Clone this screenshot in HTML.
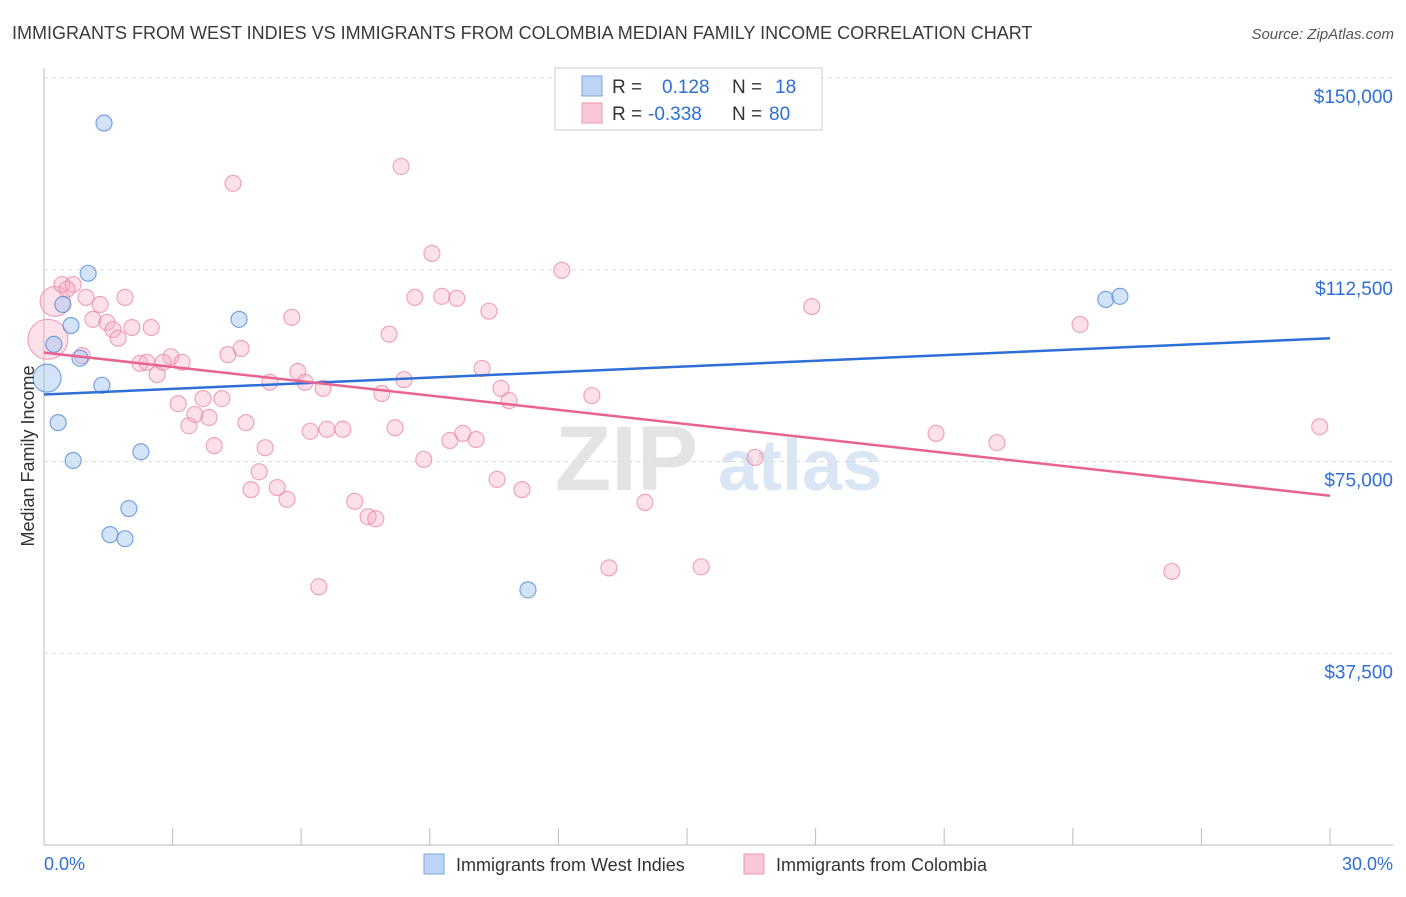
<!DOCTYPE html>
<html><head><meta charset="utf-8"><style>
body{margin:0;background:#fff;font-family:"Liberation Sans",sans-serif;}
svg text{font-family:"Liberation Sans",sans-serif;}
</style></head><body>
<svg id="chart" width="1406" height="892" xmlns="http://www.w3.org/2000/svg">
<text x="12" y="39" font-size="18" fill="#3a3a3a">IMMIGRANTS FROM WEST INDIES VS IMMIGRANTS FROM COLOMBIA MEDIAN FAMILY INCOME CORRELATION CHART</text>
<text x="1394" y="39" font-size="15" fill="#555" text-anchor="end" font-style="italic">Source: ZipAtlas.com</text>
<g>
<text x="555" y="490" font-size="92" fill="#e4e4e4" font-family="Liberation Serif" font-weight="bold">ZIP</text>
<text x="718" y="490" font-size="72" fill="#dbe6f5" font-weight="bold">atlas</text>
</g>
<g id="grid"></g><g id="axes"></g><g id="marks"></g><g id="lines"></g>
<text transform="translate(34,456) rotate(-90)" font-size="18" fill="#333" text-anchor="middle">Median Family Income</text>
<g>
<rect x="555" y="68" width="267" height="62" fill="#fff" stroke="#ccc"/>
<rect x="582" y="76" width="20" height="20" fill="#bcd4f5" stroke="#7aa6e0"/>
<rect x="582" y="103" width="20" height="20" fill="#f9c8d7" stroke="#ec98b3"/>
<text x="612" y="93" font-size="19" fill="#333">R = </text><text x="662" y="93" font-size="19" fill="#2d6fd6">0.128</text>
<text x="732" y="93" font-size="19" fill="#333">N = </text><text x="775" y="93" font-size="19" fill="#2d6fd6">18</text>
<text x="612" y="120" font-size="19" fill="#333">R = </text><text x="648" y="120" font-size="19" fill="#2d6fd6">-0.338</text>
<text x="732" y="120" font-size="19" fill="#333">N = </text><text x="769" y="120" font-size="19" fill="#2d6fd6">80</text>
</g>
<g>
<rect x="424" y="854" width="20" height="20" fill="#bcd4f5" stroke="#7aa6e0"/>
<text x="456" y="871" font-size="18" fill="#333">Immigrants from West Indies</text>
<rect x="744" y="854" width="20" height="20" fill="#f9c8d7" stroke="#ec98b3"/>
<text x="776" y="871" font-size="18" fill="#333">Immigrants from Colombia</text>
</g>
</svg>
<script>
const yTicks=[37500,75000,112500,150000];
const yTickLabels=["$37,500","$75,000","$112,500","$150,000"];
const xTickLabels=["0.0%","30.0%"];
const blueX=[1.40,1.03,0.44,0.63,4.55,0.23,0.84,0.07,1.35,0.33,0.68,2.26,1.98,1.54,1.89,11.29,24.77,25.10];
const blueY=[141.2,111.8,105.7,101.6,102.8,97.9,95.2,91.3,89.9,82.6,75.2,76.9,65.8,60.7,59.9,49.9,106.7,107.3];
const blueR=[8,8,8,8,8,8,8,14,8,8,8,8,8,8,8,8,8,8];
const pinkX=[4.41,8.33,9.05,12.08,0.09,0.26,0.42,0.68,0.54,0.98,1.31,1.89,1.14,1.47,1.61,1.73,2.05,2.50,0.89,2.24,2.40,2.64,2.96,2.78,3.22,3.13,3.38,3.52,3.71,3.85,3.97,4.15,4.29,4.60,4.71,4.83,5.02,5.16,5.27,5.44,5.67,5.78,5.92,6.09,6.21,6.41,6.51,6.60,6.97,7.25,7.56,7.74,7.88,8.05,8.19,8.40,8.65,8.86,9.28,9.47,9.63,9.77,10.22,10.08,10.38,10.57,10.66,10.85,11.15,12.78,13.18,14.02,15.33,16.59,17.91,20.81,22.23,24.17,26.31,29.76];
const pinkY=[129.4,132.7,115.7,112.4,98.9,106.3,109.6,109.6,108.7,107.1,105.7,107.1,102.8,102.2,100.8,99.1,101.2,101.2,95.7,94.2,94.4,92.0,95.5,94.4,94.4,86.3,82.0,84.2,87.3,83.6,78.1,87.3,95.9,97.1,82.6,69.5,73.0,77.7,90.5,69.9,67.6,103.2,92.6,90.5,80.9,50.5,89.3,81.3,81.3,67.2,64.2,63.8,88.3,99.9,81.6,91.0,107.1,75.4,107.3,79.1,106.9,80.5,93.2,79.3,104.4,71.5,89.3,86.9,69.5,87.9,54.2,67.0,54.4,75.8,105.3,80.5,78.7,101.8,53.5,81.8];
const pinkR=[8,8,8,8,20,15,8,8,8,8,8,8,8,8,8,8,8,8,8,8,8,8,8,8,8,8,8,8,8,8,8,8,8,8,8,8,8,8,8,8,8,8,8,8,8,8,8,8,8,8,8,8,8,8,8,8,8,8,8,8,8,8,8,8,8,8,8,8,8,8,8,8,8,8,8,8,8,8,8,8];
const blueTrend=[88.1,99.1];
const pinkTrend=[96.3,68.3];
const trendX=[0,30];
const ns="http://www.w3.org/2000/svg";
const X0=44,X1=1330,Y0=845;
function xs(p){return X0+(X1-X0)*p/30;}
function ys(k){return Y0-(Y0-78)*k/150;}
function mk(t,a,parent){const e=document.createElementNS(ns,t);for(const k in a)e.setAttribute(k,a[k]);parent.appendChild(e);return e;}
const grid=document.getElementById('grid'),axes=document.getElementById('axes'),marks=document.getElementById('marks'),lines=document.getElementById('lines');
yTicks.forEach((v,i)=>{
 const y=ys(v/1000);
 const g=mk('line',{x1:X0,x2:1393,y1:y,y2:y,stroke:'#ddd','stroke-dasharray':'4,4'},grid);
 
 
 const t=mk('text',{x:1393,y:y+25,'font-size':19,fill:'#2d6fd6','text-anchor':'end'},axes);
 t.textContent=yTickLabels[i];
 
 
});
const ax=mk('line',{x1:X0,x2:X0,y1:68,y2:Y0,stroke:'#bbb'},axes);


const bx=mk('line',{x1:X0,x2:1393,y1:Y0,y2:Y0,stroke:'#bbb'},axes);


for(let i=0;i<=10;i++){const x=xs(i*3);const t=mk('line',{x1:x,x2:x,y1:828,y2:Y0,stroke:'#bbb'},axes);
 
 }
[[0,'start',44],[30,'end',1393]].forEach((d,i)=>{const t=mk('text',{x:d[2],y:870,'font-size':18,fill:'#2d6fd6','text-anchor':d[1]},axes);t.textContent=xTickLabels[i];
 
 });
pinkX.forEach((x,i)=>{const c=mk('circle',{cx:xs(x),cy:ys(pinkY[i]),r:pinkR[i],fill:'rgba(246,170,195,0.35)',stroke:'rgba(232,130,165,0.7)','stroke-width':1.2},marks);
 
 });
blueX.forEach((x,i)=>{const c=mk('circle',{cx:xs(x),cy:ys(blueY[i]),r:blueR[i],fill:'rgba(160,195,240,0.45)',stroke:'rgba(80,135,215,0.75)','stroke-width':1.2},marks);
 
 });
const bl=mk('line',{x1:xs(trendX[0]),x2:xs(trendX[1]),y1:ys(blueTrend[0]),y2:ys(blueTrend[1]),stroke:'#2d6fd6','stroke-width':2.5},lines);


const pl=mk('line',{x1:xs(trendX[0]),x2:xs(trendX[1]),y1:ys(pinkTrend[0]),y2:ys(pinkTrend[1]),stroke:'#e8648f','stroke-width':2.5},lines);


</script>
</body></html>
